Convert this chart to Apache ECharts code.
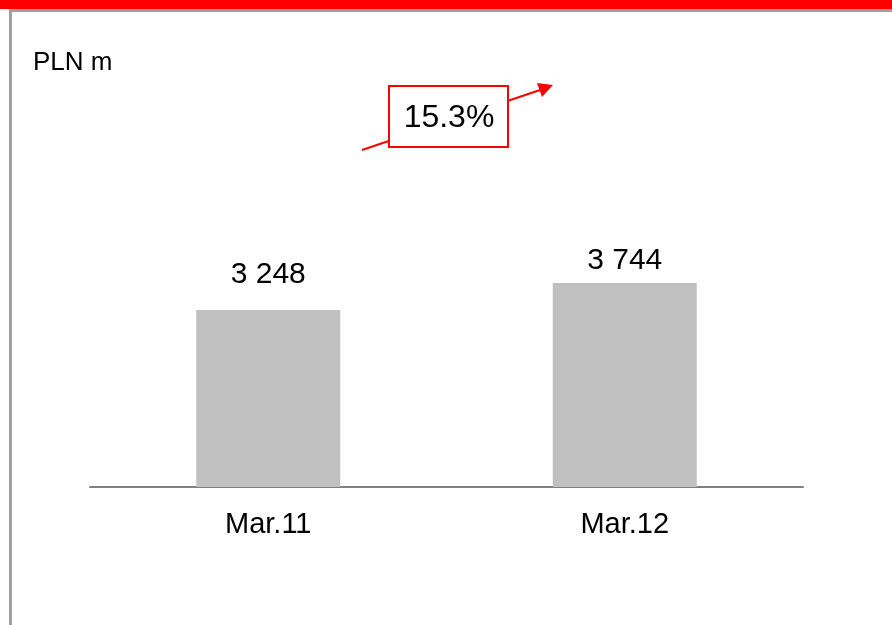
<!DOCTYPE html>
<html>
<head>
<meta charset="utf-8">
<script src="https://cdn.jsdelivr.net/npm/echarts@6/dist/echarts.min.js"></script>
<style>
html,body{margin:0;padding:0;background:#fff;}
#c{width:892px;height:625px;}
</style>
</head>
<body>
<div id="c"></div>
<script>
const categories = ['Mar.11', 'Mar.12'];
const values = [3248, 3744];
const unitLabel = 'PLN m';
const growthLabel = '15.3%';

function fmt(v) {
  return String(v).replace(/\B(?=(\d{3})+(?!\d))/g, ' ');
}

// label gap above each bar (as in the original layout)
const labelGaps = [20, 7];

const chart = echarts.init(document.getElementById('c'), null, {renderer: 'canvas'});
const font = 'Arial, "Liberation Sans", sans-serif';
chart.setOption({
  animation: false,
  backgroundColor: '#ffffff',
  grid: {left: 90, right: 89, top: 105.5, bottom: 138},
  xAxis: {
    type: 'category',
    data: categories,
    axisLine: {show: true, lineStyle: {color: '#808080', width: 2}},
    axisTick: {show: false},
    axisLabel: {color: '#000', fontSize: 29, fontFamily: font, margin: 23}
  },
  yAxis: {
    type: 'value',
    min: 0,
    max: 7000,
    show: false,
    splitLine: {show: false}
  },
  series: [{
    type: 'bar',
    data: values.map((v, i) => ({value: v, label: {distance: labelGaps[i]}})),
    barWidth: 144,
    itemStyle: {color: '#c0c0c0'},
    label: {
      show: true,
      position: 'top',
      color: '#000',
      fontSize: 30,
      fontFamily: font,
      formatter: p => fmt(p.value)
    }
  }],
  graphic: [
    {type: 'rect', shape: {x: 0, y: 0, width: 892, height: 9}, style: {fill: '#ff0000'}, silent: true},
    {type: 'rect', shape: {x: 10, y: 9, width: 882, height: 3}, style: {fill: '#a0a0a0'}, silent: true},
    {type: 'rect', shape: {x: 9, y: 9, width: 3, height: 616}, style: {fill: '#a0a0a0'}, silent: true},
    {type: 'text', left: 33, top: 50, style: {text: unitLabel, fontSize: 26, fontFamily: font, fill: '#000'}},
    {type: 'line', shape: {x1: 362, y1: 150, x2: 543, y2: 89}, style: {stroke: '#ff0000', lineWidth: 2}},
    {type: 'polygon', shape: {points: [[553, 85], [537, 83], [542, 97]]}, style: {fill: '#ff0000'}},
    {type: 'rect', shape: {x: 389, y: 86, width: 119, height: 61}, style: {fill: '#fff', stroke: '#ff0000', lineWidth: 2}},
    {type: 'text', x: 449, y: 118, style: {text: growthLabel, fontSize: 32, fontFamily: font, fill: '#000', align: 'center', verticalAlign: 'middle'}}
  ]
});
</script>
</body>
</html>
